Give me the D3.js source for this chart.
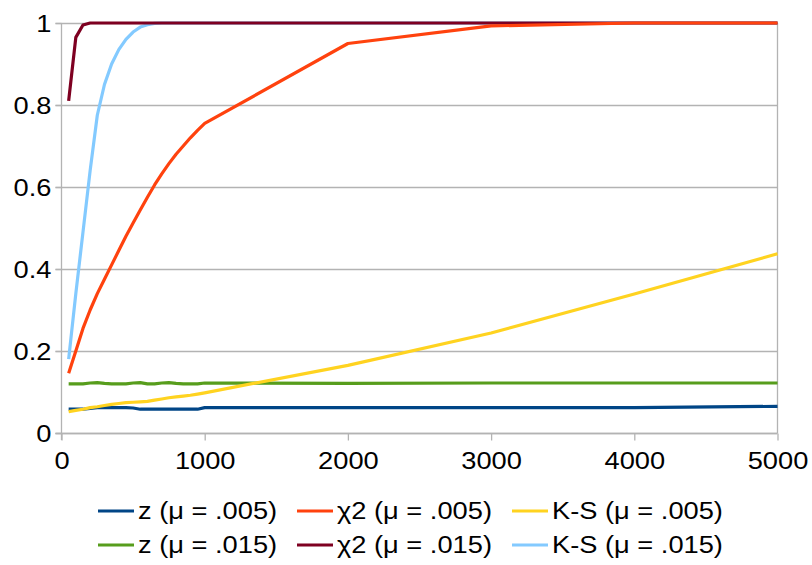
<!DOCTYPE html>
<html>
<head>
<meta charset="utf-8">
<script src="https://cdn.jsdelivr.net/npm/d3@7"></script>
<style>
  html, body { margin: 0; padding: 0; background: #fff; }
  svg { display: block; }
  text { font-family: "Liberation Sans", Arial, sans-serif; fill: #000; }
</style>
</head>
<body>
<svg id="chart" width="812" height="565"></svg>
<script>
// Sample sizes (n) at which each test's power was estimated
const sampleSizes = [50, 100, 150, 200, 250, 300, 350, 400, 450, 500, 550, 600, 650, 700,
                     750, 800, 850, 900, 950, 1000, 2000, 3000, 4000, 5000];

// Power of each test, mu = .005
const zLow   = [0.058, 0.058, 0.058, 0.060, 0.062, 0.062, 0.062, 0.062, 0.062, 0.061, 0.058, 0.058,
                0.058, 0.058, 0.058, 0.058, 0.058, 0.058, 0.058, 0.062, 0.062, 0.062, 0.062, 0.065];
const chiLow = [0.146, 0.200, 0.255, 0.300, 0.340, 0.375, 0.410, 0.445, 0.480, 0.512, 0.544, 0.575,
                0.605, 0.632, 0.657, 0.680, 0.700, 0.720, 0.738, 0.755, 0.950, 0.993, 1.000, 1.000];
const ksLow  = [0.052, 0.055, 0.058, 0.062, 0.064, 0.067, 0.070, 0.072, 0.074, 0.075, 0.076, 0.077,
                0.080, 0.083, 0.086, 0.088, 0.090, 0.092, 0.095, 0.098, 0.165, 0.244, 0.339, 0.437];

// Power of each test, mu = .015
const zHigh   = [0.120, 0.120, 0.120, 0.122, 0.123, 0.121, 0.120, 0.120, 0.120, 0.122, 0.123, 0.120,
                 0.120, 0.122, 0.123, 0.121, 0.120, 0.120, 0.120, 0.122, 0.121, 0.122, 0.122, 0.122];
const chiHigh = [0.810, 0.965, 0.995, 1.000, 1.000, 1.000, 1.000, 1.000, 1.000, 1.000, 1.000, 1.000,
                 1.000, 1.000, 1.000, 1.000, 1.000, 1.000, 1.000, 1.000, 1.000, 1.000, 1.000, 1.000];
const ksHigh  = [0.180, 0.340, 0.490, 0.640, 0.775, 0.850, 0.900, 0.935, 0.960, 0.978, 0.990, 0.996,
                 0.999, 1.000, 1.000, 1.000, 1.000, 1.000, 1.000, 1.000, 1.000, 1.000, 1.000, 1.000];

const xTicks = [0, 1000, 2000, 3000, 4000, 5000];
const yTicks = [0, 0.2, 0.4, 0.6, 0.8, 1];

const series = [
  { name: "z (μ = .005)",   values: zLow,    color: "#004586" },
  { name: "χ2 (μ = .005)",  values: chiLow,  color: "#ff420e" },
  { name: "K-S (μ = .005)", values: ksLow,   color: "#ffd320" },
  { name: "z (μ = .015)",   values: zHigh,   color: "#579d1c" },
  { name: "χ2 (μ = .015)",  values: chiHigh, color: "#7e0021" },
  { name: "K-S (μ = .015)", values: ksHigh,  color: "#83caff" }
];
// stacking order of the lines (last drawn on top)
const drawOrder = [0, 3, 2, 5, 4, 1];

const svg = d3.select("#chart");
const plot = { left: 61.5, right: 777.5, top: 23, bottom: 433 };
const fontSize = 23.5, stretch = 1.16;
const gridColor = "#b3b3b3";

const x = d3.scaleLinear().domain([0, 5000]).range([plot.left, plot.right]);
const y = d3.scaleLinear().domain([0, 1]).range([plot.bottom, plot.top]);

// horizontal grid
svg.append("g").selectAll("line").data(yTicks).join("line")
  .attr("x1", plot.left - 6).attr("x2", plot.right)
  .attr("y1", d => Math.round(y(d)) + 0.5).attr("y2", d => Math.round(y(d)) + 0.5)
  .attr("stroke", gridColor).attr("stroke-width", 1.3);

// right frame line
svg.append("line")
  .attr("x1", plot.right).attr("x2", plot.right)
  .attr("y1", y(1)).attr("y2", y(0))
  .attr("stroke", gridColor).attr("stroke-width", 1.3);

// axes
const xAxis = d3.axisBottom(x).tickValues(xTicks).tickSize(7).tickFormat(d3.format("d"));
const yAxis = d3.axisLeft(y).tickValues(yTicks).tickSize(6).tickFormat(d => d3.format("")(d));

const gx = svg.append("g").attr("transform", `translate(0,${Math.round(y(0)) + 0.5})`).call(xAxis);
const gy = svg.append("g").attr("transform", `translate(${plot.left},0)`).call(yAxis);

[gx, gy].forEach(g => {
  g.select(".domain").attr("stroke", gridColor).attr("stroke-width", 1.3);
  g.selectAll(".tick line").attr("stroke", gridColor).attr("stroke-width", 1.3);
  g.selectAll(".tick text").attr("font-size", fontSize).attr("fill", "#000");
});
gy.select(".domain").attr("d", `M0,${y(1)}V${y(0) + 7}`);
gx.select(".domain").attr("d", `M${plot.left - 6},0H${plot.right}`);

// stretched tick labels
gx.selectAll(".tick text")
  .attr("y", null).attr("dy", null)
  .attr("transform", `translate(0,35.5) scale(${stretch},1)`)
  .attr("text-anchor", "middle");
gy.selectAll(".tick text")
  .attr("x", null).attr("dy", null)
  .attr("transform", `translate(-10,8.5) scale(${stretch},1)`)
  .attr("text-anchor", "end");

// lines
const line = d3.line()
  .x((d, i) => x(sampleSizes[i]))
  .y(d => y(d))
  .curve(d3.curveLinear);

svg.append("g").selectAll("path").data(drawOrder.map(i => series[i])).join("path")
  .attr("d", d => line(d.values))
  .attr("fill", "none")
  .attr("stroke", d => d.color)
  .attr("stroke-width", 3.2)
  .attr("stroke-linejoin", "round")
  .attr("stroke-linecap", "butt");

// legend: two rows, three columns
const legendCols = [98, 297, 512];
const legendRows = [511, 545];
const legend = svg.append("g").selectAll("g").data(series).join("g")
  .attr("transform", (d, i) => `translate(${legendCols[i % 3]},${legendRows[Math.floor(i / 3)]})`);
legend.append("line")
  .attr("x1", 0).attr("x2", 36).attr("y1", 0).attr("y2", 0)
  .attr("stroke", d => d.color).attr("stroke-width", 3.2);
legend.append("text")
  .attr("transform", `translate(40,8.3) scale(${stretch},1)`)
  .attr("font-size", fontSize)
  .text(d => d.name);
</script>
</body>
</html>
